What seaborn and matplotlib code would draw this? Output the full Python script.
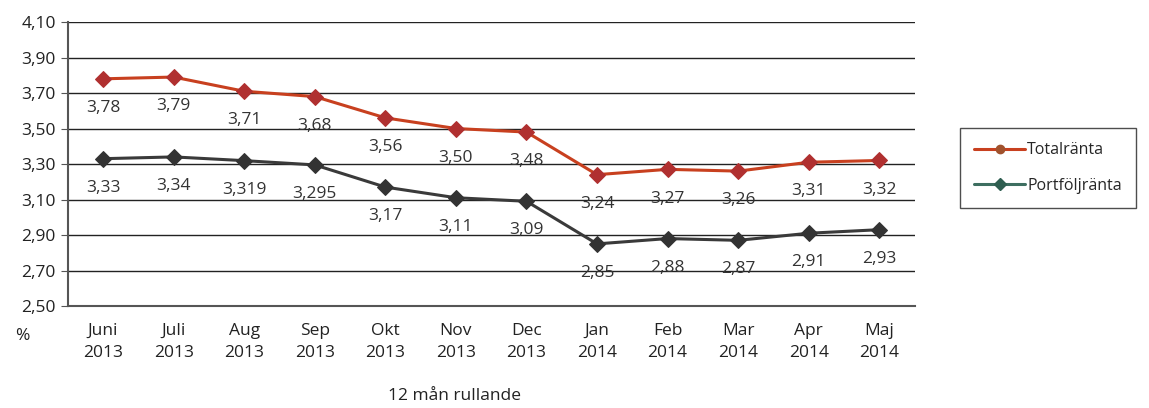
import pandas as pd
import matplotlib.pyplot as plt
import matplotlib.lines as mlines
import seaborn as sns

# data
manader = ['Juni\n2013', 'Juli\n2013', 'Aug\n2013', 'Sep\n2013', 'Okt\n2013', 'Nov\n2013',
           'Dec\n2013', 'Jan\n2014', 'Feb\n2014', 'Mar\n2014', 'Apr\n2014', 'Maj\n2014']
totalranta = [3.78, 3.79, 3.71, 3.68, 3.56, 3.50, 3.48, 3.24, 3.27, 3.26, 3.31, 3.32]
portfoljranta = [3.33, 3.34, 3.319, 3.295, 3.17, 3.11, 3.09, 2.85, 2.88, 2.87, 2.91, 2.93]
total_text = ['3,78', '3,79', '3,71', '3,68', '3,56', '3,50', '3,48', '3,24', '3,27', '3,26', '3,31', '3,32']
portf_text = ['3,33', '3,34', '3,319', '3,295', '3,17', '3,11', '3,09', '2,85', '2,88', '2,87', '2,91', '2,93']
y_ticks = [2.50, 2.70, 2.90, 3.10, 3.30, 3.50, 3.70, 3.90, 4.10]

df = pd.DataFrame({'pos': range(len(manader)),
                   'Totalränta': totalranta,
                   'Portföljränta': portfoljranta})

sns.set_style('white')
plt.rcParams['font.family'] = ['Open Sans', 'DejaVu Sans']

fig = plt.figure(figsize=(11.49, 4.08), dpi=100)
ax = fig.add_axes([0.059, 0.25, 0.737, 0.696])

red = '#C8401F'
gray = '#3A3A3A'

sns.lineplot(data=df, x='pos', y='Totalränta', ax=ax, color=red, lw=2.2,
             marker='D', markersize=8, markerfacecolor='#B03030', markeredgecolor='#B03030')
sns.lineplot(data=df, x='pos', y='Portföljränta', ax=ax, color=gray, lw=2.2,
             marker='D', markersize=8, markerfacecolor='#333333', markeredgecolor='#333333')

# datapunkter
for i in range(len(manader)):
    ax.annotate(total_text[i], (i, totalranta[i]), xytext=(0, -21), textcoords='offset points',
                ha='center', va='center', fontsize=12.5, color='#333333')
    ax.annotate(portf_text[i], (i, portfoljranta[i]), xytext=(0, -21), textcoords='offset points',
                ha='center', va='center', fontsize=12.5, color='#333333')

ax.set_xlim(-0.5, len(manader) - 0.5)
ax.set_ylim(2.50, 4.10)
ax.set_yticks(y_ticks)
ax.set_yticklabels([f'{v:.2f}'.replace('.', ',') for v in y_ticks], fontsize=12.5, color='#222222')
ax.set_xticks(range(len(manader)))
ax.set_xticklabels(manader, fontsize=12.5, color='#222222')
for t in ax.get_xticklabels():
    t.set_linespacing(1.55)
ax.set_xticks([i - 0.5 for i in range(len(manader) + 1)], minor=True)
ax.tick_params(axis='x', which='major', length=0, pad=12)
ax.tick_params(axis='x', which='minor', length=5, color='#555555')
ax.tick_params(axis='y', length=5, color='#555555', left=True)
ax.set_xlabel('')
ax.set_ylabel('')

ax.grid(axis='y', color='#222222', lw=1)
ax.grid(axis='x', visible=False)
for s in ['top', 'right']:
    ax.spines[s].set_visible(False)
ax.spines['left'].set_color('#555555')
ax.spines['left'].set_linewidth(1.5)
ax.spines['bottom'].set_color('#555555')
ax.spines['bottom'].set_linewidth(1.5)

fig.text(22 / 1149, 1 - 336 / 408, '%', fontsize=12.5, ha='center', va='center', color='#222222')
fig.text(455 / 1149, 1 - 396 / 408, '12 mån rullande', fontsize=12.5, ha='center', va='center',
         color='#222222')

h1 = mlines.Line2D([], [], color=red, lw=2.2, marker='o', markersize=6,
                   markerfacecolor='#A0522D', markeredgecolor='#A0522D', label='Totalränta')
h2 = mlines.Line2D([], [], color='#3D6E60', lw=2.2, marker='D', markersize=6,
                   markerfacecolor='#2E5E50', markeredgecolor='#2E5E50', label='Portföljränta')
leg = fig.legend(handles=[h1, h2], loc='center', bbox_to_anchor=(1048 / 1149, 1 - 168 / 408),
                 frameon=True, fancybox=False, fontsize=11.5, handlelength=3.2,
                 labelspacing=1.2, borderpad=0.9, handletextpad=0.1, edgecolor='#222222')
leg.get_frame().set_linewidth(1)

plt.savefig('out.png', dpi=100)
